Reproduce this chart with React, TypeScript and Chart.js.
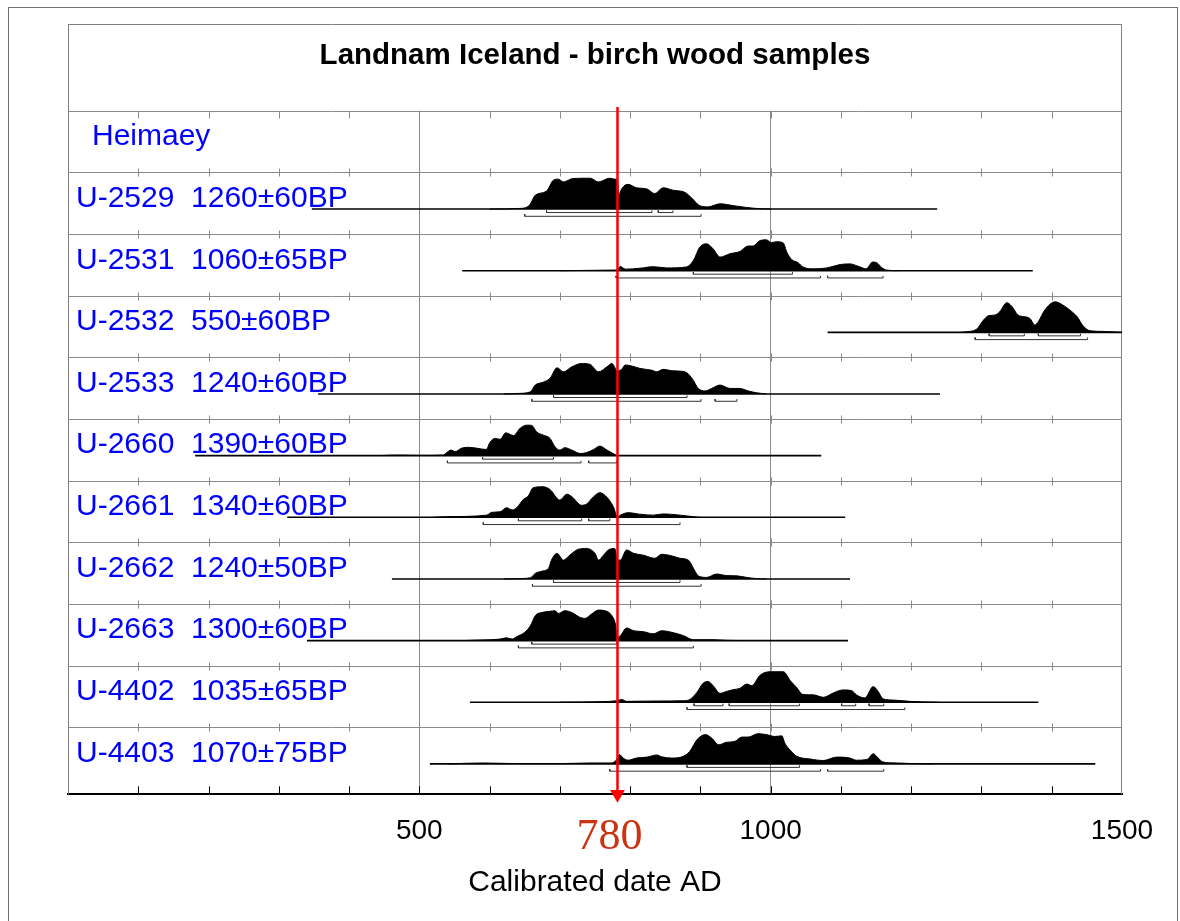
import React, { useEffect, useRef } from 'react';
import { Chart, registerables } from 'chart.js';

Chart.register(...registerables);

const W = 1180;
const H = 921;

const TITLE = 'Landnam Iceland - birch wood samples';
const X_TITLE = 'Calibrated date AD';
const X_MIN = 0;
const X_MAX = 1500;
const X_STEP = 100;
const X_LABELED = [500, 1000, 1500];
const X_GRID = [500, 1000];

const GROUP_LABEL = 'Heimaey';
const SAMPLE_LABELS = [
  'U-2529  1260±60BP',
  'U-2531  1060±65BP',
  'U-2532  550±60BP',
  'U-2533  1240±60BP',
  'U-2660  1390±60BP',
  'U-2661  1340±60BP',
  'U-2662  1240±50BP',
  'U-2663  1300±60BP',
  'U-4402  1035±65BP',
  'U-4403  1070±75BP',
];

// calibrated range of each plotted line (years AD)
const LINE_START = [347, 561, 1081, 356, 181, 312, 461, 340, 572, 515];
const LINE_END = [1237, 1373, 1500, 1241, 1072, 1106, 1113, 1110, 1381, 1462];

// relative probability (year AD, relative density 0..1)
const D_U2529 = [[600,0],[643,0.02],[657,0.13],[665,0.45],[681,0.58],[691,0.94],[698,0.97],[705,0.88],[719,0.99],[743,1.0],[755,0.88],[771,1.0],[778,0.97],[782,0.95],[784,0.39],[786,0.56],[797,0.8],[809,0.69],[824,0.65],[835,0.5],[847,0.69],[861,0.61],[878,0.54],[888,0.35],[899,0.11],[911,0.07],[928,0.17],[947,0.11],[966,0.05],[985,0.01],[1000,0]];
const D_U2531 = [[700,0],[776,0.02],[782,0.03],[786,0.14],[793,0.05],[814,0.08],[833,0.13],[852,0.09],[880,0.12],[890,0.33],[899,0.76],[909,0.87],[918,0.71],[928,0.44],[942,0.55],[956,0.62],[968,0.8],[975,0.8],[985,0.98],[994,1.0],[1001,0.91],[1008,0.94],[1018,0.9],[1023,0.6],[1030,0.36],[1039,0.26],[1046,0.12],[1061,0.06],[1080,0.09],[1099,0.2],[1113,0.22],[1125,0.14],[1136,0.06],[1145,0.28],[1151,0.26],[1158,0.1],[1165,0.02],[1180,0]];
const D_U2532 = [[1270,0],[1279,0.02],[1293,0.1],[1303,0.4],[1310,0.54],[1319,0.56],[1326,0.67],[1336,0.96],[1343,0.85],[1352,0.56],[1360,0.51],[1369,0.45],[1376,0.24],[1381,0.35],[1390,0.72],[1405,0.99],[1414,0.91],[1426,0.72],[1436,0.51],[1445,0.2],[1455,0.05],[1473,0.03],[1492,0.01],[1500,0]];
const D_U2533 = [[620,0],[643,0.02],[658,0.07],[665,0.29],[676,0.38],[686,0.51],[696,0.85],[705,0.72],[717,0.88],[731,0.99],[743,0.96],[755,0.72],[767,0.88],[774,0.99],[782,0.75],[788,0.8],[793,0.94],[802,0.91],[814,0.83],[831,0.77],[838,0.72],[847,0.8],[861,0.75],[878,0.72],[888,0.51],[897,0.18],[907,0.1],[916,0.18],[928,0.29],[942,0.18],[956,0.18],[968,0.1],[980,0.04],[994,0]];
const D_U2660 = [[440,0],[470,0.02],[500,0.01],[534,0.02],[539,0.1],[545,0.18],[551,0.13],[560,0.24],[570,0.27],[582,0.24],[595,0.2],[601,0.45],[608,0.56],[615,0.53],[623,0.74],[629,0.69],[634,0.65],[643,0.88],[653,0.99],[660,0.98],[667,0.77],[676,0.67],[686,0.56],[693,0.29],[700,0.18],[707,0.26],[717,0.18],[729,0.07],[738,0.1],[748,0.2],[757,0.31],[767,0.18],[781,0]];
const D_U2661 = [[520,0],[539,0.02],[596,0.07],[603,0.16],[615,0.18],[624,0.31],[632,0.24],[639,0.32],[648,0.58],[655,0.69],[662,0.96],[676,0.99],[686,0.9],[700,0.56],[710,0.75],[717,0.67],[731,0.39],[738,0.43],[748,0.67],[757,0.8],[767,0.65],[776,0.35],[782,0.02],[786,0.07],[797,0.15],[814,0.1],[833,0.07],[847,0.11],[871,0.07],[890,0.02],[899,0]];
const D_U2662 = [[620,0],[640,0.01],[658,0.04],[665,0.18],[676,0.26],[684,0.35],[688,0.61],[696,0.83],[705,0.61],[714,0.77],[726,0.96],[738,0.99],[750,0.83],[755,0.61],[762,0.77],[769,0.94],[778,0.99],[782,0.61],[786,0.61],[795,0.94],[805,0.83],[819,0.77],[835,0.67],[845,0.8],[859,0.75],[871,0.67],[883,0.61],[890,0.35],[897,0.1],[909,0.05],[923,0.16],[937,0.11],[952,0.1],[966,0.05],[980,0.01],[994,0]];
const D_U2663 = [[560,0],[586,0.02],[601,0.03],[615,0.05],[624,0.09],[632,0.05],[639,0.13],[650,0.27],[658,0.48],[665,0.81],[674,0.91],[686,0.95],[693,0.97],[698,0.88],[707,0.97],[717,0.91],[729,0.75],[736,0.72],[745,0.86],[755,0.99],[764,0.97],[774,0.81],[779,0.54],[782,0.11],[786,0.16],[795,0.41],[805,0.32],[819,0.29],[833,0.22],[845,0.32],[859,0.27],[876,0.16],[890,0.03],[918,0.03],[937,0.01],[960,0]];
const D_U4402 = [[700,0],[760,0.02],[781,0.05],[788,0.09],[795,0.03],[838,0.04],[876,0.05],[885,0.09],[895,0.32],[904,0.62],[911,0.67],[918,0.54],[928,0.29],[937,0.35],[947,0.41],[956,0.45],[966,0.59],[973,0.54],[985,0.88],[999,0.99],[1018,0.99],[1028,0.7],[1037,0.48],[1046,0.25],[1061,0.24],[1075,0.16],[1089,0.3],[1103,0.4],[1115,0.38],[1122,0.24],[1134,0.14],[1146,0.51],[1153,0.35],[1160,0.11],[1175,0.07],[1198,0.03],[1217,0.01],[1240,0]];
const D_U4403 = [[540,0],[590,0.03],[640,0.01],[700,0.01],[743,0.03],[771,0.03],[779,0.09],[785,0.3],[790,0.19],[797,0.12],[809,0.19],[824,0.22],[838,0.29],[845,0.23],[859,0.19],[876,0.25],[885,0.41],[895,0.78],[907,0.95],[916,0.84],[926,0.62],[937,0.7],[949,0.73],[959,0.87],[968,0.87],[982,0.98],[994,0.95],[1006,0.89],[1016,0.91],[1020,0.68],[1028,0.44],[1037,0.25],[1056,0.16],[1075,0.11],[1094,0.22],[1113,0.19],[1122,0.12],[1137,0.14],[1146,0.33],[1153,0.19],[1160,0.06],[1179,0.03],[1203,0.01],[1230,0]];

const DENSITIES = [D_U2529, D_U2531, D_U2532, D_U2533, D_U2660, D_U2661, D_U2662, D_U2663, D_U4402, D_U4403];

// 68.2% ranges (1 sigma)
const SIGMA1 = [
  [[681, 831], [840, 861]],
  [[890, 1031]],
  [[1311, 1361], [1381, 1441]],
  [[691, 881]],
  [[590, 691]],
  [[641, 731], [741, 771]],
  [[691, 871]],
  [[660, 781]],
  [[891, 932], [941, 1041], [1101, 1121], [1140, 1161]],
  [[881, 1041]],
];
// 95.4% ranges (2 sigma)
const SIGMA2 = [
  [[650, 901]],
  [[780, 1071], [1081, 1160]],
  [[1291, 1451]],
  [[660, 901], [921, 952]],
  [[540, 730], [741, 781]],
  [[591, 871]],
  [[661, 901]],
  [[641, 890]],
  [[881, 1191]],
  [[771, 1071], [1081, 1161]],
];

const MARKER_YEAR = 782;
const MARKER_LABEL = '780';

// vertical geometry in row units (rows counted from the top, row 0 = group header)
const Y_MAX = 11.088;
const BASE_OFF = 0.595;
const PEAK = 0.5;
const S1_OFF = 0.057;
const S2_OFF = 0.118;
const BR_TICK = 0.035;
const LABEL_OFF = 0.56;
const MARKER_TOP = -0.06;

const SANS = "'Liberation Sans', Arial, Helvetica, sans-serif";
const SERIF = "'Liberation Serif', 'Times New Roman', serif";

function bracketPoints(ranges: number[][], yb: number) {
  const pts: { x: number; y: number | null }[] = [];
  ranges.forEach(([a, b]) => {
    pts.push({ x: a, y: yb - BR_TICK });
    pts.push({ x: a, y: yb });
    pts.push({ x: b, y: yb });
    pts.push({ x: b, y: yb - BR_TICK });
    pts.push({ x: b, y: null });
  });
  return pts;
}

function buildDatasets() {
  const ds: any[] = [];
  ds.push({
    label: 'marker',
    data: [
      { x: MARKER_YEAR, y: MARKER_TOP },
      { x: MARKER_YEAR, y: Y_MAX },
    ],
    borderColor: '#ff0000',
    borderWidth: 2.5,
    pointRadius: [0, 8.5],
    pointStyle: 'triangle',
    rotation: 180,
    pointBackgroundColor: '#ff0000',
    pointBorderColor: '#ff0000',
    pointBorderWidth: 0,
    fill: false,
    clip: false,
  });
  DENSITIES.forEach((d, i) => {
    const row = i + 1;
    const base = row + BASE_OFF;
    ds.push({
      label: SAMPLE_LABELS[i] + ' 1s',
      data: bracketPoints(SIGMA1[i], base + S1_OFF),
      borderColor: '#333333',
      borderWidth: 1,
      pointRadius: 0,
      fill: false,
      spanGaps: false,
    });
    ds.push({
      label: SAMPLE_LABELS[i] + ' 2s',
      data: bracketPoints(SIGMA2[i], base + S2_OFF),
      borderColor: '#333333',
      borderWidth: 1,
      pointRadius: 0,
      fill: false,
      spanGaps: false,
    });
    ds.push({
      label: SAMPLE_LABELS[i] + ' density',
      data: d.map(([yr, v]) => ({ x: yr, y: base - v * PEAK })),
      borderColor: '#000000',
      borderWidth: 1,
      backgroundColor: '#000000',
      pointRadius: 0,
      cubicInterpolationMode: 'monotone',
      fill: { value: base },
    });
    ds.push({
      label: SAMPLE_LABELS[i] + ' line',
      data: [
        { x: LINE_START[i], y: base },
        { x: LINE_END[i], y: base },
      ],
      borderColor: '#000000',
      borderWidth: 1.6,
      pointRadius: 0,
      fill: false,
    });
  });
  return ds;
}

const decor = {
  id: 'decor',
  beforeDatasetsDraw(chart: any) {
    const { ctx, chartArea: ca, scales } = chart;
    const x = scales.x;
    const y = scales.y;
    ctx.save();
    // outer frame
    ctx.strokeStyle = '#707070';
    ctx.lineWidth = 1;
    ctx.strokeRect(8.5, 7.5, 1169, 1000);
    // panel frame incl. title box
    const topY = 24.5;
    ctx.strokeStyle = '#808080';
    ctx.beginPath();
    ctx.moveTo(ca.left, topY);
    ctx.lineTo(ca.right, topY);
    ctx.moveTo(ca.left + 0.5, topY);
    ctx.lineTo(ca.left + 0.5, ca.bottom);
    ctx.moveTo(ca.right - 0.5, topY);
    ctx.lineTo(ca.right - 0.5, ca.bottom);
    ctx.stroke();
    // row separators and their ticks
    ctx.strokeStyle = '#8a8a8a';
    for (let r = 0; r <= 10; r++) {
      const py = Math.round(y.getPixelForValue(r)) + 0.5;
      ctx.beginPath();
      ctx.moveTo(ca.left, py);
      ctx.lineTo(ca.right, py);
      for (let v = X_MIN + X_STEP; v < X_MAX; v += X_STEP) {
        const px = Math.round(x.getPixelForValue(v)) + 0.5;
        if (r === 0) {
          ctx.moveTo(px, py);
          ctx.lineTo(px, py + 7);
        } else {
          ctx.moveTo(px, py - 4);
          ctx.lineTo(px, py + 4);
        }
      }
      ctx.stroke();
    }
    // bottom axis ticks (inward)
    ctx.strokeStyle = '#000000';
    ctx.beginPath();
    for (let v = X_MIN + X_STEP; v < X_MAX; v += X_STEP) {
      const px = Math.round(x.getPixelForValue(v)) + 0.5;
      ctx.moveTo(px, ca.bottom);
      ctx.lineTo(px, ca.bottom - 8);
    }
    ctx.stroke();
    ctx.restore();
  },
  afterDraw(chart: any) {
    const { ctx, chartArea: ca, scales } = chart;
    const x = scales.x;
    const y = scales.y;
    ctx.save();
    ctx.fillStyle = '#0000ff';
    ctx.font = `30px ${SANS}`;
    ctx.textAlign = 'left';
    ctx.textBaseline = 'alphabetic';
    ctx.fillText(GROUP_LABEL, ca.left + 24, y.getPixelForValue(LABEL_OFF));
    SAMPLE_LABELS.forEach((t, i) => {
      ctx.fillText(t, ca.left + 8, y.getPixelForValue(i + 1 + LABEL_OFF));
    });
    ctx.fillStyle = '#cc3311';
    ctx.font = `44px ${SERIF}`;
    ctx.textAlign = 'center';
    ctx.fillText(MARKER_LABEL, x.getPixelForValue(MARKER_YEAR) - 8, 849);
    ctx.restore();
  },
};

export default function App() {
  const ref = useRef<HTMLCanvasElement>(null);
  useEffect(() => {
    if (!ref.current) return;
    const chart = new Chart(ref.current, {
      type: 'line',
      data: { datasets: buildDatasets() },
      options: {
        responsive: false,
        animation: false,
        devicePixelRatio: 1,
        events: [],
        layout: { autoPadding: false, padding: { left: 68, right: 58, top: 0, bottom: 0 } },
        plugins: {
          legend: { display: false },
          tooltip: { enabled: false },
          title: {
            display: true,
            text: TITLE,
            color: '#000000',
            font: { family: SANS, size: 29.5, weight: 'bold', lineHeight: 1.2 },
            padding: { top: 38.6, bottom: 36.7 },
          },
        },
        scales: {
          x: {
            type: 'linear',
            min: X_MIN,
            max: X_MAX,
            z: 1,
            ticks: {
              stepSize: X_STEP,
              autoSkip: false,
              maxRotation: 0,
              padding: 20,
              color: '#000000',
              font: { family: SANS, size: 28, lineHeight: 1.2 },
              callback: (v: any) => (X_LABELED.includes(Number(v)) ? String(v) : ''),
            },
            grid: {
              drawTicks: false,
              lineWidth: 1,
              color: (c: any) =>
                c.tick && X_GRID.includes(c.tick.value) ? '#8c8c8c' : 'rgba(0,0,0,0)',
            },
            border: { display: true, color: '#000000', width: 2 },
            title: {
              display: true,
              text: X_TITLE,
              color: '#000000',
              font: { family: SANS, size: 30, lineHeight: 1.2 },
              padding: { top: 0, bottom: 20 },
            },
            afterFit: (s: any) => {
              s.height = H - 794.3;
            },
          },
          y: {
            type: 'linear',
            display: false,
            reverse: true,
            min: 0,
            max: Y_MAX,
          },
        },
      },
      plugins: [decor],
    } as any);
    return () => chart.destroy();
  }, []);
  return (
    <div style={{ position: 'absolute', left: 0, top: 0, width: W, height: H, background: '#ffffff' }}>
      <canvas ref={ref} width={W} height={H} style={{ display: 'block', width: W, height: H }} />
    </div>
  );
}
